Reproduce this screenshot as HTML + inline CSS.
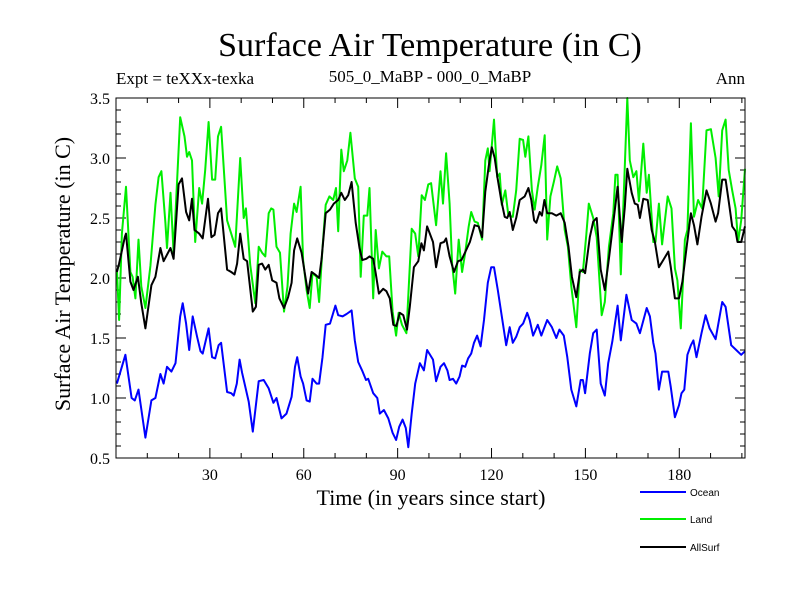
<!DOCTYPE html>
<html><head><meta charset="utf-8"><style>
body{margin:0;background:#fff}
svg text{font-family:"Liberation Serif",serif}
</style></head><body>
<svg id="c" width="800" height="600" xmlns="http://www.w3.org/2000/svg">
<text x="430" y="56" font-size="34" text-anchor="middle">Surface Air Temperature (in C)</text>
<text x="116" y="84" font-size="17">Expt = teXXx-texka</text>
<text x="430" y="82" font-size="17" text-anchor="middle">505_0_MaBP - 000_0_MaBP</text>
<text x="745" y="84" font-size="17" text-anchor="end">Ann</text>
<text x="431" y="505" font-size="22" text-anchor="middle">Time (in years since start)</text>
<text transform="translate(70,274) rotate(-90)" font-size="22" text-anchor="middle">Surface Air Temperature (in C)</text>
<g id="axes"></g><g id="series"></g>
<rect x="116" y="98" width="629" height="360" fill="none" stroke="#000" stroke-width="1"/>
<g id="legend"></g>
</svg>
<script>
const yTicks=[0.5,1.0,1.5,2.0,2.5,3.0,3.5];
const xTicks=[30,60,90,120,150,180];
const oceanYears=[0.3,3,5,6,7.2,9.4,11.3,12.6,14.2,15.2,16.3,17.7,19,20.5,21.3,22.4,23.4,24.5,25.9,27,27.7,29.6,30.7,31.7,32.8,33.6,35.5,36.8,37.6,38.6,39.5,40.3,42.4,43.7,45.6,47.2,48.8,50.3,51.3,52.9,54.5,56.1,57.2,57.9,59,59.8,60.9,61.9,62.8,64.1,64.9,66,67,68.4,70.1,71,72.4,73.7,75.3,76.3,77.4,78.8,79.9,80.6,82.2,83.5,84.3,85.6,87,88.4,89.5,90.5,91.6,92.6,93.4,94.5,95.6,97.1,98.4,99.4,101.3,102.3,103.7,104.8,105.9,106.6,107.7,108.7,109.8,110.6,111.6,112.5,113.5,114.4,115.4,116.5,117.6,118.8,119.9,120.8,122,123.3,124.7,125.8,126.8,127.9,129,130.1,131.4,132.2,133.3,134.8,135.9,137.8,139.3,140.7,141.7,143.1,144.2,145.5,147.1,148.5,149.2,149.9,151.4,152.5,153.6,154.9,156.2,157.3,158.6,160.3,161.3,163.1,164.8,166.3,167.4,169.6,170.6,171.7,172.4,173.5,174.5,176.5,177.3,178.6,179.9,180.7,181.6,182.6,183.7,184.5,185.5,187.1,188.4,189.7,191.6,193.7,194.8,196.6,198.2,199.8,201];
const oceanValues=[1.12,1.36,1.0,0.98,1.07,0.67,0.98,1.0,1.2,1.12,1.26,1.22,1.29,1.68,1.79,1.62,1.40,1.68,1.51,1.39,1.37,1.58,1.34,1.33,1.44,1.46,1.05,1.04,1.02,1.12,1.32,1.21,0.97,0.72,1.14,1.15,1.08,0.96,1.0,0.83,0.87,1.01,1.26,1.34,1.18,1.12,0.98,0.97,1.16,1.12,1.12,1.34,1.61,1.62,1.77,1.69,1.68,1.70,1.73,1.48,1.30,1.22,1.15,1.16,1.04,1.0,0.87,0.90,0.83,0.71,0.65,0.76,0.82,0.75,0.59,0.87,1.12,1.29,1.23,1.40,1.32,1.14,1.26,1.29,1.23,1.15,1.16,1.12,1.18,1.27,1.26,1.33,1.37,1.46,1.52,1.43,1.65,1.96,2.09,2.09,1.90,1.68,1.44,1.59,1.46,1.51,1.59,1.62,1.71,1.65,1.52,1.61,1.52,1.65,1.59,1.50,1.57,1.52,1.34,1.07,0.93,1.15,1.15,1.04,1.37,1.54,1.57,1.12,1.02,1.29,1.47,1.77,1.48,1.86,1.65,1.62,1.54,1.75,1.68,1.46,1.37,1.07,1.22,1.22,1.09,0.84,0.94,1.04,1.07,1.36,1.44,1.48,1.34,1.54,1.69,1.58,1.49,1.80,1.76,1.44,1.40,1.36,1.39];
const landYears=[0.3,1,1.9,3.2,4.6,5.3,6.2,7.2,8.1,9.4,11,12.6,13.6,14.5,15.8,16.3,17.4,18.4,19.2,20.5,21.9,22.7,23.4,24.3,25.3,26.6,27.5,28.5,29.6,30.7,31.7,32.6,33.6,35.5,36.8,38.1,39.7,40.8,41.5,42.9,44.5,45.6,46.7,47.7,48.8,49.6,50.3,51.3,52.4,53.7,54.8,55.8,56.9,57.7,59,59.8,60.9,61.9,62.8,64.1,64.9,66,67,68.2,69.4,70.3,71,72,72.8,73.9,74.9,76.3,77.4,78.2,79.2,80.3,81,82.2,83,84,85.1,86.4,87.3,88.4,89.5,90.3,91.4,92.8,94.5,95.6,96.6,97.7,98.7,99.8,100.7,102.3,103.7,104.5,105.5,106.6,107.4,108.4,109.5,110.6,111.6,112.7,113.5,114.6,115.6,117,118,118.8,119.4,120.8,121.8,122.6,123.3,124.4,125.4,126.8,127.9,129,130.1,130.8,131.8,132.9,133.8,134.8,135.9,137,137.8,138.8,139.9,141,142.1,143.4,144.4,145.5,147.1,148.2,149.2,150.3,151.1,152.5,153.6,155.2,156.2,157.5,158.9,159.6,160.3,161.3,162.6,163.4,164.2,165.3,166.3,167.1,168.5,169.6,170.3,171.7,172.4,173.5,174.5,176.3,177.5,178.6,179.4,180.5,181.8,182.6,183.7,184.7,186,187.3,188.7,190.1,191.6,192.6,193.7,194.8,195.8,196.9,198,198.8,199.8,201];
const landValues=[2.07,1.65,2.37,2.76,2.05,2.01,1.83,2.32,1.93,1.75,2.10,2.61,2.84,2.89,2.46,2.25,2.71,2.21,2.64,3.34,3.18,3.01,3.05,2.98,2.30,2.75,2.62,2.90,3.30,2.82,2.82,3.18,3.26,2.48,2.37,2.26,3.0,2.50,2.58,2.11,1.79,2.26,2.21,2.18,2.54,2.58,2.57,2.26,2.21,1.72,1.93,2.37,2.62,2.55,2.76,2.15,1.90,1.75,2.04,2.01,1.80,2.25,2.61,2.68,2.65,2.75,2.39,3.07,2.89,2.98,3.21,2.83,2.76,2.01,2.52,2.52,2.75,1.83,2.40,2.08,2.22,2.18,2.18,1.72,1.52,1.71,1.61,1.54,2.41,2.37,2.18,2.69,2.65,2.78,2.79,2.44,2.89,2.62,3.04,2.62,2.12,1.87,2.32,2.05,2.21,2.43,2.55,2.47,2.46,2.32,2.98,3.08,2.89,3.32,2.84,2.87,2.61,2.73,2.52,2.51,2.73,3.16,3.15,3.01,3.18,2.73,2.57,2.76,2.94,3.19,2.32,2.68,2.80,2.93,2.83,2.40,2.26,1.93,1.59,2.07,2.05,2.36,2.62,2.50,2.34,1.69,1.80,2.26,2.54,2.86,2.86,2.03,2.93,3.50,2.98,2.84,2.89,2.64,3.12,2.71,2.86,2.30,2.30,2.62,2.28,2.68,2.58,2.08,1.98,1.58,2.32,2.40,3.29,2.51,2.65,2.58,3.23,3.24,3.0,2.68,3.23,3.32,2.90,2.73,2.58,2.30,2.48,2.91];
const allYears=[0.3,1,2.8,3.2,4.6,5.6,7,8.1,9.4,11.3,12.6,14.2,15.2,17.4,18.4,20,21.1,22.4,23.4,24.3,25.1,26.6,27.7,29.4,30.5,31.5,32.6,33.6,35.5,36.8,37.9,38.7,39.7,40.8,41.9,43.7,44.7,45.6,46.7,47.7,48.8,49.9,51.3,52.2,53.7,55,56.1,56.9,57.9,59.3,60.4,61.4,62.5,63.6,64.9,65.7,67,68.4,69.6,71,72,73.1,74.2,75.3,76.6,77.8,78.7,80,81,82.2,83,84,85.4,86.4,87.5,88.6,89.6,90.7,91.8,93,93.9,95.2,96.6,97.6,98.4,99.4,101.3,102.3,103.7,104.8,105.5,106.6,108,109.3,110.4,111.5,113.1,114.6,115.9,117,118,119.1,120.1,121,122,123.1,124.2,125,125.8,126.8,127.9,129,130.6,131.8,132.7,133.6,134.3,135.4,136.1,136.9,137.8,139.3,140.7,142.1,143.4,144.6,145.7,147.1,148.2,149.2,149.9,151.4,152.5,153.6,154.9,156.2,157.5,158.9,160.3,161.6,162.6,163.4,164.8,165.8,166.7,167.4,168.5,169.9,171.2,172.2,173.5,174.9,176.5,177.3,178.6,179.9,181,182.3,183.7,184.7,185.8,187.1,188.7,190.1,191.6,192.4,193.7,194.8,195.8,196.9,198,198.6,199.8,201];
const allValues=[2.05,2.12,2.34,2.37,1.97,1.90,2.01,1.79,1.58,1.94,2.01,2.25,2.14,2.25,2.16,2.78,2.83,2.55,2.48,2.66,2.40,2.37,2.33,2.66,2.34,2.36,2.54,2.58,2.07,2.05,2.03,2.12,2.37,2.16,2.14,1.72,1.76,2.11,2.12,2.07,2.11,1.98,1.96,1.83,1.75,1.84,1.96,2.23,2.33,2.21,2.03,1.87,2.05,2.03,2.0,2.16,2.54,2.57,2.62,2.65,2.71,2.65,2.69,2.80,2.46,2.25,2.15,2.16,2.18,2.16,2.04,1.87,1.91,1.89,1.83,1.61,1.60,1.71,1.69,1.57,1.76,2.09,2.14,2.29,2.23,2.43,2.30,2.09,2.29,2.30,2.33,2.18,2.05,2.14,2.15,2.21,2.30,2.44,2.43,2.34,2.72,2.93,3.09,3.0,2.82,2.65,2.51,2.50,2.55,2.40,2.50,2.65,2.68,2.75,2.65,2.48,2.46,2.55,2.52,2.65,2.54,2.54,2.52,2.54,2.46,2.26,2.01,1.84,2.05,2.07,2.04,2.34,2.47,2.50,2.07,1.90,2.16,2.46,2.76,2.30,2.59,2.91,2.71,2.62,2.61,2.50,2.66,2.65,2.40,2.30,2.09,2.15,2.22,2.09,1.83,1.83,1.97,2.25,2.54,2.44,2.28,2.51,2.73,2.62,2.47,2.54,2.82,2.82,2.64,2.43,2.39,2.30,2.30,2.43];

const NS="http://www.w3.org/2000/svg";
const X0=116,X1=745,Y0=458,Y1=98,xMin=0,xMax=201,yMin=0.5,yMax=3.5;
function xs(v){return X0+(v-xMin)/(xMax-xMin)*(X1-X0);}
function ys(v){return Y0-(v-yMin)/(yMax-yMin)*(Y0-Y1);}
function mk(tag,attrs,parent){const e=document.createElementNS(NS,tag);for(const k in attrs)e.setAttribute(k,attrs[k]);parent.appendChild(e);return e;}
const axes=document.getElementById('axes');
for(let v=0.5;v<=3.501;v+=0.1){
  const major=Math.abs(v*2-Math.round(v*2))<1e-6;const L=major?10:5;const y=ys(v);
  const t1=mk('line',{x1:X0,x2:X0+L,y1:y,y2:y,stroke:'#000'},axes);
  
  
  const t2=mk('line',{x1:X1,x2:X1-L,y1:y,y2:y,stroke:'#000'},axes);
  
  
}
yTicks.forEach(v=>{const t=mk('text',{x:X0-6,y:ys(v)+6,'font-size':16,'text-anchor':'end'},axes);t.textContent=v.toFixed(1);
  
  });
for(let v=10;v<=200;v+=10){
  const major=v%30===0;const L=major?10:5;const x=xs(v);
  const a=mk('line',{x1:x,x2:x,y1:Y0,y2:Y0-L,stroke:'#000'},axes);
  
  
  const b=mk('line',{x1:x,x2:x,y1:Y1,y2:Y1+L,stroke:'#000'},axes);
  
  
}
xTicks.forEach(v=>{const t=mk('text',{x:xs(v),y:Y0+22,'font-size':16,'text-anchor':'middle'},axes);t.textContent=v;
  
  });
const ser=document.getElementById('series');
function line(xa,va,color,name){
  const d=xa.map((x,i)=>(i?'L':'M')+xs(x).toFixed(1)+','+ys(va[i]).toFixed(1)).join('');
  const p=mk('path',{d:d,fill:'none',stroke:color,'stroke-width':2,'stroke-linejoin':'round'},ser);
  
  
}
line(oceanYears,oceanValues,'#0000ff','ocean-line');
line(landYears,landValues,'#00ee00','land-line');
line(allYears,allValues,'#000000','allsurf-line');
const lg=document.getElementById('legend');
[['Ocean','#0000ff',492],['Land','#00ee00',519],['AllSurf','#000000',547]].forEach(e=>{
  const l=mk('line',{x1:640,x2:686,y1:e[2],y2:e[2],stroke:e[1],'stroke-width':2},lg);
  
  
  const t=mk('text',{x:690,y:e[2]+4,'font-size':10,style:'font-family:"Liberation Sans",sans-serif'},lg);t.textContent=e[0];
  
  
});
</script>
</body></html>
